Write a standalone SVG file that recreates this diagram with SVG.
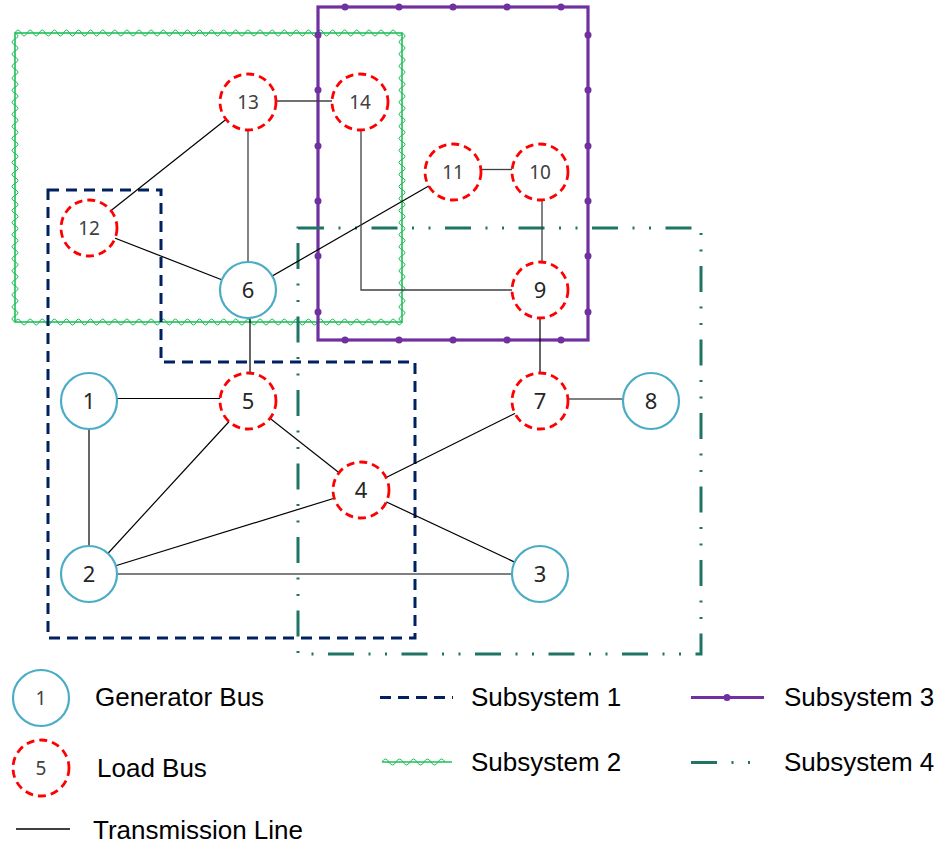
<svg xmlns="http://www.w3.org/2000/svg" width="942" height="846" viewBox="0 0 942 846">
<style>
.gen{fill:#fff;stroke:#4bacc6;stroke-width:2.2}
.load{fill:#fff;stroke:#ff0000;stroke-width:2.8;stroke-dasharray:8 5}
.lbl{font-family:"Noto Sans","Open Sans",sans-serif;font-size:22px;fill:#262626;text-anchor:middle}
.lbl2{font-family:"Noto Sans","Open Sans",sans-serif;font-size:19px;fill:#404040;text-anchor:middle}
.edge{stroke:#000;stroke-width:1.2;fill:none}
.edgeg{stroke:#404040;stroke-width:1.3;fill:none}
.s1{fill:none;stroke:#002060;stroke-width:3;stroke-dasharray:11 7}
.s2{fill:none;stroke:#1fbf5a;stroke-width:1.6}
.s2w{fill:none;stroke:#1fbf5a;stroke-width:1}
.s3{fill:none;stroke:#7030a0;stroke-width:3.2}
.s4{fill:none;stroke:#1f7563;stroke-width:3;stroke-dasharray:26 14.5 2 14.5 2 14.5}
.pd{fill:#7030a0}
.leg{font-family:"Liberation Sans",Arial,sans-serif;font-size:26px;fill:#000}
</style>

<g id="subsystems">
<g id="subsystem2">
<rect class="s2" x="15" y="33" width="387" height="289"/>
<path class="s2w" d="M15,33 q3.025,-6 6.05,0 t6.05,0t6.05,0t6.05,0t6.05,0t6.05,0t6.05,0t6.05,0t6.05,0t6.05,0 t6.05,0t6.05,0t6.05,0t6.05,0t6.05,0t6.05,0t6.05,0t6.05,0t6.05,0 t6.05,0t6.05,0t6.05,0t6.05,0t6.05,0t6.05,0t6.05,0t6.05,0t6.05,0 t6.05,0t6.05,0t6.05,0t6.05,0t6.05,0t6.05,0t6.05,0t6.05,0t6.05,0 t6.05,0t6.05,0t6.05,0t6.05,0t6.05,0t6.05,0t6.05,0t6.05,0t6.05,0 t6.05,0t6.05,0t6.05,0t6.05,0t6.05,0t6.05,0t6.05,0t6.05,0t6.05,0 t6.05,0t6.05,0t6.05,0t6.05,0t6.05,0t6.05,0t6.05,0t6.05,0t6.05,0"/>
<path class="s2w" d="M15,322 q3.025,-6 6.05,0 t6.05,0t6.05,0t6.05,0t6.05,0t6.05,0t6.05,0t6.05,0t6.05,0t6.05,0 t6.05,0t6.05,0t6.05,0t6.05,0t6.05,0t6.05,0t6.05,0t6.05,0t6.05,0 t6.05,0t6.05,0t6.05,0t6.05,0t6.05,0t6.05,0t6.05,0t6.05,0t6.05,0 t6.05,0t6.05,0t6.05,0t6.05,0t6.05,0t6.05,0t6.05,0t6.05,0t6.05,0 t6.05,0t6.05,0t6.05,0t6.05,0t6.05,0t6.05,0t6.05,0t6.05,0t6.05,0 t6.05,0t6.05,0t6.05,0t6.05,0t6.05,0t6.05,0t6.05,0t6.05,0t6.05,0 t6.05,0t6.05,0t6.05,0t6.05,0t6.05,0t6.05,0t6.05,0t6.05,0t6.05,0"/>
<path class="s2w" d="M15,33 q6,3.01 0,6.02 t0,6.02t0,6.02t0,6.02t0,6.02t0,6.02t0,6.02t0,6.02t0,6.02t0,6.02 t0,6.02t0,6.02t0,6.02t0,6.02t0,6.02t0,6.02t0,6.02t0,6.02t0,6.02 t0,6.02t0,6.02t0,6.02t0,6.02t0,6.02t0,6.02t0,6.02t0,6.02t0,6.02 t0,6.02t0,6.02t0,6.02t0,6.02t0,6.02t0,6.02t0,6.02t0,6.02t0,6.02 t0,6.02t0,6.02t0,6.02t0,6.02t0,6.02t0,6.02t0,6.02t0,6.02t0,6.02 t0,6.02t0,6.02"/>
<path class="s2w" d="M402,33 q6,3.01 0,6.02 t0,6.02t0,6.02t0,6.02t0,6.02t0,6.02t0,6.02t0,6.02t0,6.02t0,6.02 t0,6.02t0,6.02t0,6.02t0,6.02t0,6.02t0,6.02t0,6.02t0,6.02t0,6.02 t0,6.02t0,6.02t0,6.02t0,6.02t0,6.02t0,6.02t0,6.02t0,6.02t0,6.02 t0,6.02t0,6.02t0,6.02t0,6.02t0,6.02t0,6.02t0,6.02t0,6.02t0,6.02 t0,6.02t0,6.02t0,6.02t0,6.02t0,6.02t0,6.02t0,6.02t0,6.02t0,6.02 t0,6.02t0,6.02"/>
</g>
<g id="subsystem3">
<rect class="s3" x="318" y="7" width="270" height="333"/>
<circle class="pd" cx="345" cy="7" r="3.5"/><circle class="pd" cx="399" cy="7" r="3.5"/><circle class="pd" cx="453" cy="7" r="3.5"/><circle class="pd" cx="507" cy="7" r="3.5"/><circle class="pd" cx="561" cy="7" r="3.5"/>
<circle class="pd" cx="345" cy="340" r="3.5"/><circle class="pd" cx="399" cy="340" r="3.5"/><circle class="pd" cx="453" cy="340" r="3.5"/><circle class="pd" cx="507" cy="340" r="3.5"/><circle class="pd" cx="561" cy="340" r="3.5"/>
<circle class="pd" cx="318" cy="35" r="3.5"/><circle class="pd" cx="318" cy="90" r="3.5"/><circle class="pd" cx="318" cy="146" r="3.5"/><circle class="pd" cx="318" cy="201" r="3.5"/><circle class="pd" cx="318" cy="256" r="3.5"/><circle class="pd" cx="318" cy="312" r="3.5"/>
<circle class="pd" cx="588" cy="35" r="3.5"/><circle class="pd" cx="588" cy="90" r="3.5"/><circle class="pd" cx="588" cy="146" r="3.5"/><circle class="pd" cx="588" cy="201" r="3.5"/><circle class="pd" cx="588" cy="256" r="3.5"/><circle class="pd" cx="588" cy="312" r="3.5"/>
</g>
<g id="subsystem4">
<path class="s4" d="M298,228 H701 V654 H298 Z"/>
</g>
<g id="subsystem1">
<path class="s1" d="M48,190 H161 V362 H415 V638 H48 Z"/>
</g>
</g>

<g id="connectors">
<line class="edgeg" x1="276" y1="101" x2="332" y2="101"/>
<line class="edge" x1="248" y1="102" x2="89" y2="228"/>
<line class="edgeg" x1="248" y1="102" x2="248" y2="290"/>
<line class="edge" x1="89" y1="228" x2="248" y2="290"/>
<line class="edge" x1="248" y1="290" x2="453" y2="172"/>
<polyline class="edgeg" points="361,102 361,290 540,290"/>
<line class="edgeg" x1="480" y1="169.5" x2="512" y2="169.5"/>
<line class="edgeg" x1="542" y1="172" x2="542" y2="290"/>
<line class="edge" x1="540" y1="290" x2="540" y2="401"/>
<line class="edge" x1="567" y1="399" x2="623" y2="399"/>
<line class="edge" x1="540" y1="401" x2="361" y2="490"/>
<line class="edge" x1="361" y1="490" x2="540" y2="574"/>
<line class="edge" x1="89" y1="574" x2="540" y2="574"/>
<line class="edge" x1="248" y1="401" x2="361" y2="490"/>
<line class="edge" x1="89" y1="574" x2="361" y2="490"/>
<line class="edge" x1="89" y1="574" x2="248" y2="401"/>
<line class="edge" x1="117" y1="398.5" x2="221" y2="398.5"/>
<line class="edge" x1="89" y1="401" x2="89" y2="574"/>
<line class="edge" x1="250" y1="290" x2="250" y2="380"/>
</g>

<g id="bus1"><circle class="gen" cx="89" cy="401" r="28"/><text class="lbl" x="89" y="409">1</text></g>
<g id="bus2"><circle class="gen" cx="89" cy="574" r="28"/><text class="lbl" x="89" y="582">2</text></g>
<g id="bus3"><circle class="gen" cx="540" cy="574" r="28"/><text class="lbl" x="540" y="582">3</text></g>
<g id="bus4"><circle class="load" cx="361" cy="490" r="28"/><text class="lbl" x="361" y="498">4</text></g>
<g id="bus5"><circle class="load" cx="248" cy="401" r="28"/><text class="lbl" x="248" y="409">5</text></g>
<g id="bus6"><circle class="gen" cx="248" cy="290" r="28"/><text class="lbl" x="248" y="298">6</text></g>
<g id="bus7"><circle class="load" cx="540" cy="401" r="28"/><text class="lbl" x="540" y="409">7</text></g>
<g id="bus8"><circle class="gen" cx="651" cy="401" r="28"/><text class="lbl" x="651" y="409">8</text></g>
<g id="bus9"><circle class="load" cx="540" cy="290" r="28"/><text class="lbl" x="540" y="298">9</text></g>
<g id="bus10"><circle class="load" cx="540" cy="172" r="28"/><text class="lbl2" x="540" y="179">10</text></g>
<g id="bus11"><circle class="load" cx="453" cy="172" r="28"/><text class="lbl2" x="453" y="179">11</text></g>
<g id="bus12"><circle class="load" cx="89" cy="228" r="28"/><text class="lbl2" x="89" y="235">12</text></g>
<g id="bus13"><circle class="load" cx="248" cy="102" r="28"/><text class="lbl2" x="248" y="109">13</text></g>
<g id="bus14"><circle class="load" cx="360" cy="102" r="28"/><text class="lbl2" x="360" y="109">14</text></g>

<g id="legend">
<circle class="gen" cx="41" cy="698" r="28"/><text class="lbl2" x="41" y="705">1</text>
<text class="leg" x="95" y="706">Generator Bus</text>
<circle class="load" cx="41" cy="768" r="28"/><text class="lbl2" x="41" y="775">5</text>
<text class="leg" x="97" y="777">Load Bus</text>
<line class="edge" x1="16" y1="829" x2="70" y2="829" style="stroke-width:1.5"/>
<text class="leg" x="93" y="839">Transmission Line</text>
<line class="s1" x1="380" y1="697.5" x2="453" y2="697.5"/>
<text class="leg" x="471" y="706">Subsystem 1</text>
<line class="s2" x1="382" y1="762" x2="452" y2="762"/>
<path class="s2w" d="M382,762 q3.5,-6 7,0 t7,0t7,0t7,0t7,0t7,0t7,0t7,0t7,0"/>
<text class="leg" x="471" y="771">Subsystem 2</text>
<line class="s3" x1="691" y1="697.5" x2="764" y2="697.5"/>
<circle class="pd" cx="727" cy="697.5" r="3.5"/>
<text class="leg" x="784" y="706">Subsystem 3</text>
<line class="s4" x1="691" y1="762.5" x2="751" y2="762.5"/>
<text class="leg" x="784" y="771">Subsystem 4</text>
</g>
</svg>
